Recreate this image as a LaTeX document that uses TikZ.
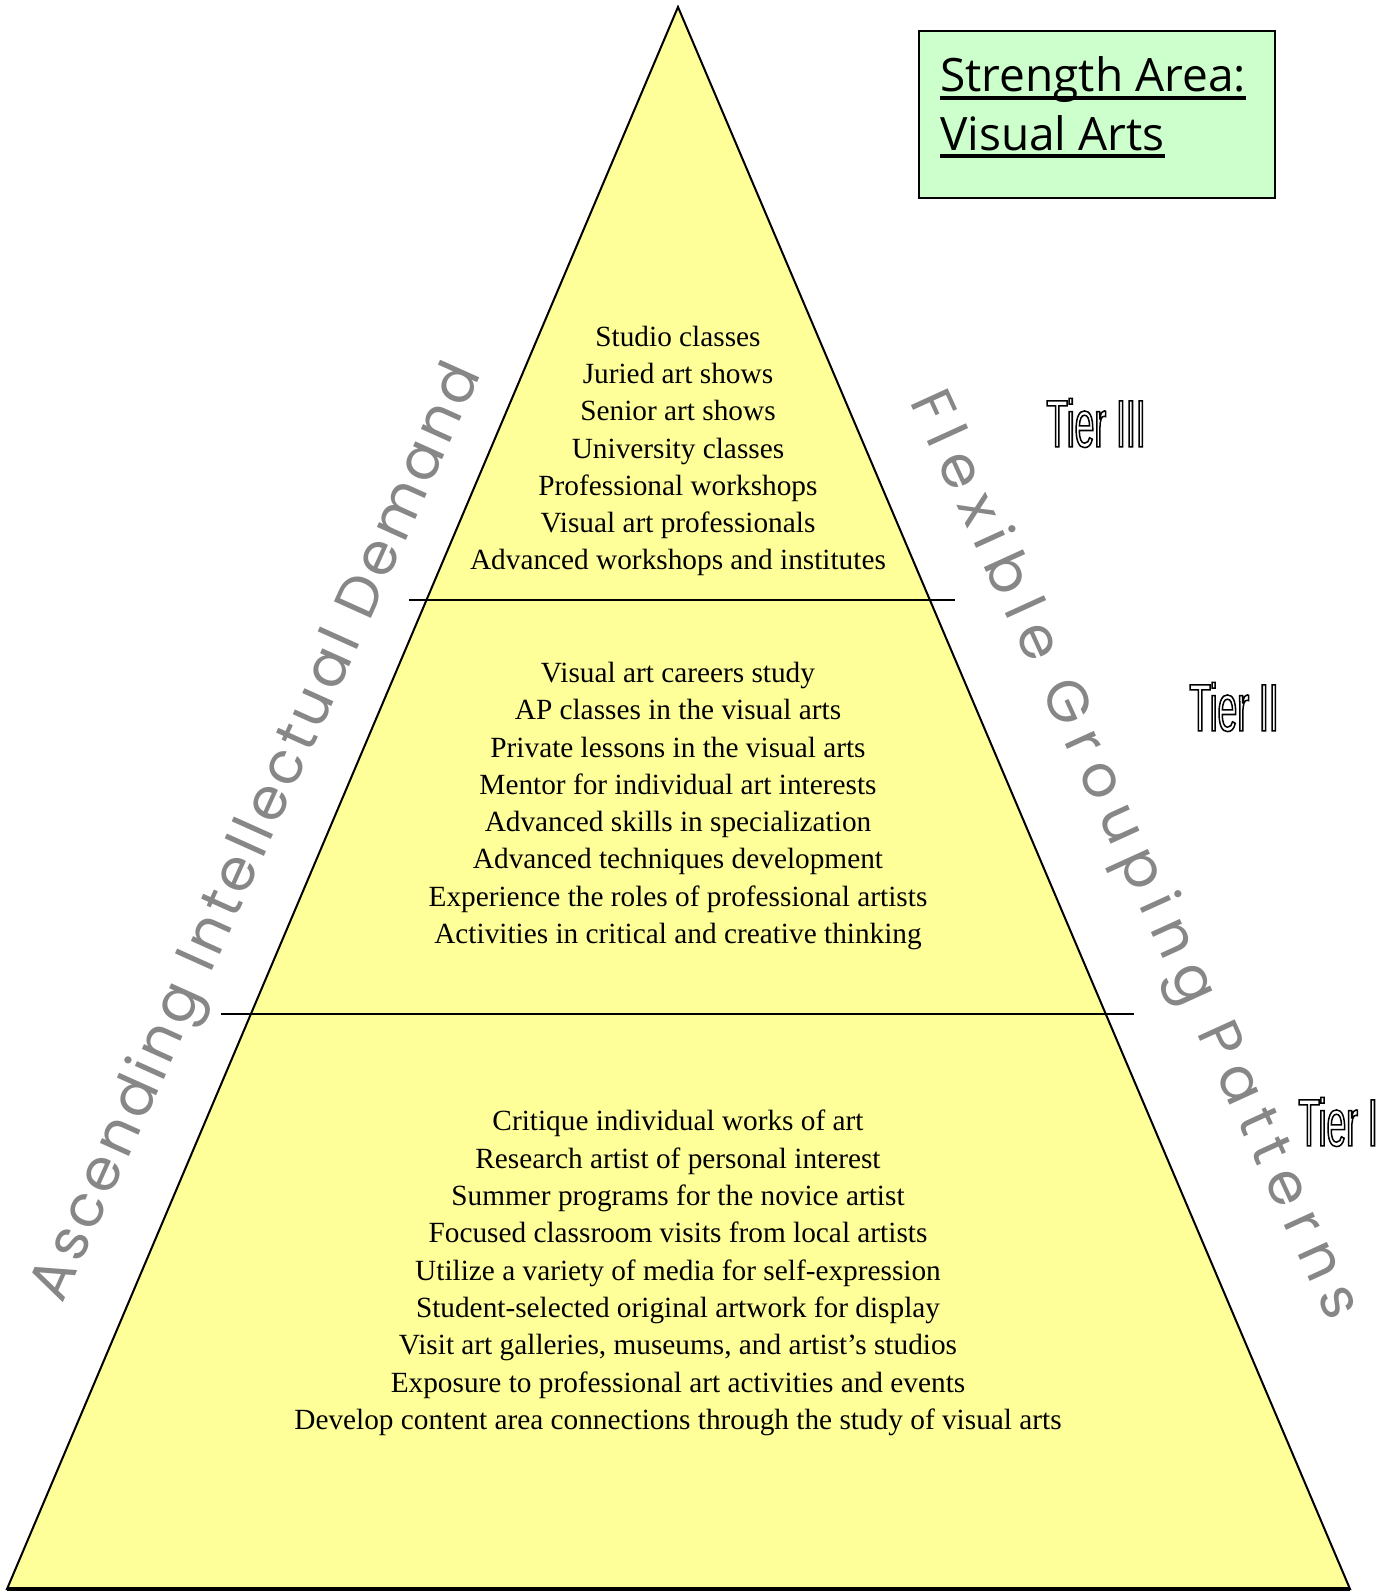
\documentclass[tikz,border=0pt]{standalone}
\usepackage{fontspec}
\setmainfont{Liberation Serif}
\newfontfamily\tierfont[FakeStretch=0.53]{Liberation Sans}
\newfontfamily\sidefontA[LetterSpace=7.3]{Poppins}
\newfontfamily\sidefontB[LetterSpace=19.5]{Poppins}
\newfontfamily\titlefont{Open Sans}
\newcommand\outlinetext[2]{\special{pdf:literal direct #1 w 1 Tr}#2\special{pdf:literal direct 0 Tr}}
\definecolor{triyellow}{RGB}{255,255,153}
\definecolor{titlegreen}{RGB}{204,255,204}
\definecolor{sidegray}{RGB}{135,135,135}
\tikzset{
  edge/.style={line width=2pt},
  tierline/.style={line width=1.5pt},
  itemtext/.style={align=center, inner sep=0pt, font=\fontsize{29.3}{37.3}\selectfont},
  tierlabel/.style={inner sep=0pt, font=\tierfont\fontsize{67}{67}\selectfont},
  sidelabel/.style={inner sep=0pt, text=sidegray},
  titletext/.style={inner sep=0pt, anchor=base west, font=\titlefont\fontsize{46}{46}\selectfont}
}
\begin{document}
\begin{tikzpicture}[x=1pt,y=-1pt]
\useasboundingbox (0,0) rectangle (1393,1592);
% pyramid
\coordinate (apex) at (678,7);
\coordinate (bl) at (7,1589);
\coordinate (br) at (1350,1589);
\draw[edge, fill=triyellow] (apex) -- (br) -- (bl) -- cycle;
\draw[line width=3.5pt] (bl) -- (br);
% tier separators
\coordinate (s1a) at (409,600);
\coordinate (s1b) at (955,600);
\coordinate (s2a) at (221,1014);
\coordinate (s2b) at (1134,1014);
\draw[tierline] (s1a) -- (s1b);
\draw[tierline] (s2a) -- (s2b);
% tier contents
\node[itemtext] (t3) at (678,451) {Studio classes\\Juried art shows\\Senior art shows\\University classes\\Professional workshops\\Visual art professionals\\Advanced workshops and institutes};
\node[itemtext] (t2) at (678,806) {Visual art careers study\\AP classes in the visual arts\\Private lessons in the visual arts\\Mentor for individual art interests\\Advanced skills in specialization\\Advanced techniques development\\Experience the roles of professional artists\\Activities in critical and creative thinking};
\node[itemtext] (t1) at (678,1273) {Critique individual works of art\\Research artist of personal interest\\Summer programs for the novice artist\\Focused classroom visits from local artists\\Utilize a variety of media for self-expression\\Student-selected original artwork for display\\Visit art galleries, museums, and artist’s studios\\Exposure to professional art activities and events\\Develop content area connections through the study of visual arts};
% tier labels
\node[tierlabel] (lab3) at (1096,423) {\outlinetext{1.5}{Tier III}};
\node[tierlabel] (lab2) at (1234,707) {\outlinetext{1.5}{Tier II}};
\node[tierlabel] (lab1) at (1338,1122) {\outlinetext{1.5}{Tier I}};
% side labels
\node[sidelabel, rotate=65.8, font=\sidefontA\fontsize{58}{58}\selectfont] (asc) at (259,833) {Ascending Intellectual Demand};
\node[sidelabel, rotate=-65.5, font=\sidefontB\fontsize{58}{58}\selectfont] (flex) at (1132,856) {Flexible Grouping Patterns};
% title box
\node[draw, line width=2pt, fill=titlegreen, anchor=north west, minimum width=356pt, minimum height=167pt, inner sep=0pt] (box) at (918,30) {};
\node[titletext] (title1) at (940,92) {Strength Area:};
\node[titletext] (title2) at (940,150) {Visual Arts};
\draw[line width=3.5pt] ([yshift=-6pt]title1.base west) -- ([yshift=-6pt]title1.base east);
\draw[line width=3.5pt] ([yshift=-6pt]title2.base west) -- ([yshift=-6pt]title2.base east);
\end{tikzpicture}
\end{document}
